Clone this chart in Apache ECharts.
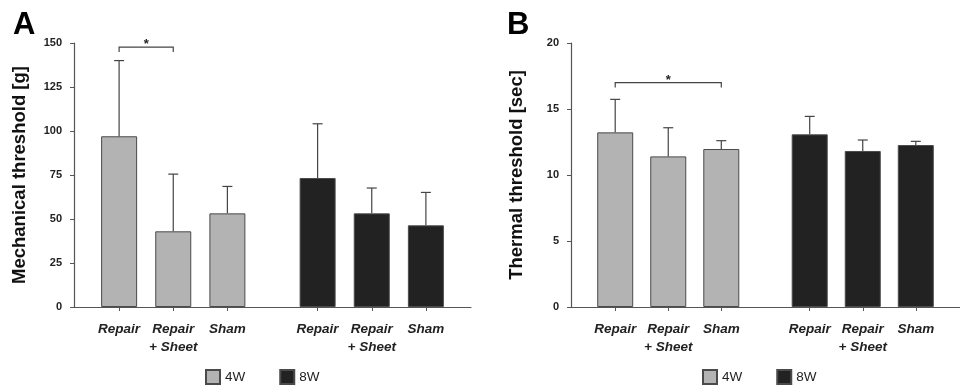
<!DOCTYPE html>
<html>
<head>
<meta charset="utf-8">
<script src="https://cdn.jsdelivr.net/npm/echarts@6/dist/echarts.min.js"></script>
<style>
  html, body { margin: 0; padding: 0; background: #fff; }
  #chart { width: 960px; height: 386px; }
</style>
</head>
<body>
<div id="chart"></div>
<script>
// categories (same three groups at 4W and 8W)
const groups = ['Repair', 'Repair\n+ Sheet', 'Sham'];
const weeks = ['4W', '8W'];

// A: mechanical threshold [g]
const mechMean4W = [97, 43, 53.2];
const mechErr4W = [43, 32.5, 15.3];
const mechMean8W = [73.3, 53.2, 46.4];
const mechErr8W = [30.8, 14.4, 18.7];
const mechTicks = [0, 150, 25];
const mechSig = [0, 1, 147.7]; // 4W Repair vs 4W Repair + Sheet

// B: thermal threshold [sec]
const thermMean4W = [13.23, 11.41, 11.97];
const thermErr4W = [2.5, 2.17, 0.63];
const thermMean8W = [13.08, 11.82, 12.27];
const thermErr8W = [1.36, 0.83, 0.28];
const thermTicks = [0, 20, 5];
const thermSig = [0, 2, 17]; // 4W Repair vs 4W Sham

// layout: slot positions on a 22-slot x axis
const pos4W = [2.5, 5.5, 8.5];
const pos8W = [13.5, 16.5, 19.5];
const slotCount = 22;
const allPos = pos4W.concat(pos8W);
const allLabels = groups.concat(groups);

const GRAY = '#b3b3b3';
const DARK = '#222222';
const EDGE = '#4a4a4a';
const FONT = 'Liberation Sans, Arial, sans-serif';

const chart = echarts.init(document.getElementById('chart'));

function xAxisFor(gridIndex) {
  return {
    gridIndex,
    type: 'value',
    min: 0,
    max: slotCount,
    splitLine: { show: false },
    axisLine: { lineStyle: { color: '#555', width: 1.2 } },
    axisTick: { customValues: allPos, length: 4, lineStyle: { color: '#555' } },
    axisLabel: {
      customValues: allPos,
      margin: 13,
      formatter: v => {
        const i = allPos.findIndex(p => Math.abs(p - v) < 1e-6);
        return i < 0 ? '' : allLabels[i];
      },
      fontFamily: FONT,
      fontSize: 13.5,
      fontWeight: 'bold',
      fontStyle: 'italic',
      color: '#222',
      lineHeight: 18
    }
  };
}

function yAxisFor(gridIndex, ticks, name) {
  return {
    gridIndex,
    type: 'value',
    min: ticks[0],
    max: ticks[1],
    interval: ticks[2],
    name,
    nameLocation: 'middle',
    nameGap: 45,
    nameTextStyle: { fontFamily: FONT, fontSize: 18.5, fontWeight: 'bold', color: '#111' },
    splitLine: { show: false },
    axisLine: { show: true, lineStyle: { color: '#555', width: 1.2 } },
    axisTick: { show: true, length: 4, lineStyle: { color: '#555' } },
    axisLabel: { margin: 12, fontFamily: FONT, fontSize: 11, fontWeight: 'bold', color: '#222' }
  };
}

function barSeries(idx, name, pos, mean, fill) {
  return {
    name,
    type: 'bar',
    xAxisIndex: idx,
    yAxisIndex: idx,
    barWidth: 36,
    barGap: '-100%',
    data: pos.map((p, i) => [p, mean[i]]),
    itemStyle: { color: fill, borderColor: EDGE, borderWidth: 1 },
    emphasis: { disabled: true },
    z: 2
  };
}

function errorSeries(idx, pos, mean, err) {
  return {
    type: 'custom',
    xAxisIndex: idx,
    yAxisIndex: idx,
    clip: false,
    silent: true,
    data: pos.map((p, i) => [p, mean[i], err[i]]),
    renderItem: (params, api) => {
      const lo = api.coord([api.value(0), api.value(1)]);
      const hi = api.coord([api.value(0), api.value(1) + api.value(2)]);
      const style = { stroke: '#444', lineWidth: 1.2 };
      return {
        type: 'group',
        children: [
          { type: 'line', shape: { x1: lo[0], y1: lo[1], x2: hi[0], y2: hi[1] }, style },
          { type: 'line', shape: { x1: hi[0] - 5, y1: hi[1], x2: hi[0] + 5, y2: hi[1] }, style }
        ]
      };
    },
    z: 3
  };
}

function sigSeries(idx, sig) {
  return {
    type: 'custom',
    xAxisIndex: idx,
    yAxisIndex: idx,
    clip: false,
    silent: true,
    data: [[pos4W[sig[0]], pos4W[sig[1]], sig[2]]],
    renderItem: (params, api) => {
      const a = api.coord([api.value(0), api.value(2)]);
      const b = api.coord([api.value(1), api.value(2)]);
      return {
        type: 'group',
        children: [
          {
            type: 'polyline',
            shape: { points: [[a[0], a[1] + 5], a, b, [b[0], b[1] + 5]] },
            style: { stroke: '#444', lineWidth: 1.2, fill: null }
          },
          {
            type: 'text',
            style: {
              x: (a[0] + b[0]) / 2, y: a[1] + 4, text: '*',
              align: 'center', verticalAlign: 'bottom',
              font: 'bold 13px ' + FONT, fill: '#222'
            }
          }
        ]
      };
    },
    z: 3
  };
}

const legendBase = {
  data: weeks,
  top: 364,
  itemWidth: 14,
  itemHeight: 14,
  itemGap: 34,
  icon: 'rect',
  selectedMode: false,
  textStyle: { fontFamily: FONT, fontSize: 13.5, color: '#222' }
};

chart.setOption({
  animation: false,
  backgroundColor: '#fff',
  title: [
    { text: 'A', left: 8, top: 5, textStyle: { fontFamily: FONT, fontSize: 31, fontWeight: 'bold', color: '#000' } },
    { text: 'B', left: 502, top: 5, textStyle: { fontFamily: FONT, fontSize: 31, fontWeight: 'bold', color: '#000' } }
  ],
  legend: [
    Object.assign({ left: 200 }, legendBase),
    Object.assign({ left: 697 }, legendBase)
  ],
  grid: [
    { left: 74, top: 43, width: 397, height: 264 },
    { left: 571, top: 43, width: 396, height: 264 }
  ],
  xAxis: [xAxisFor(0), xAxisFor(1)],
  yAxis: [
    yAxisFor(0, mechTicks, 'Mechanical threshold [g]'),
    yAxisFor(1, thermTicks, 'Thermal threshold [sec]')
  ],
  series: [
    barSeries(0, weeks[0], pos4W, mechMean4W, GRAY),
    barSeries(0, weeks[1], pos8W, mechMean8W, DARK),
    errorSeries(0, pos4W, mechMean4W, mechErr4W),
    errorSeries(0, pos8W, mechMean8W, mechErr8W),
    sigSeries(0, mechSig),
    barSeries(1, weeks[0], pos4W, thermMean4W, GRAY),
    barSeries(1, weeks[1], pos8W, thermMean8W, DARK),
    errorSeries(1, pos4W, thermMean4W, thermErr4W),
    errorSeries(1, pos8W, thermMean8W, thermErr8W),
    sigSeries(1, thermSig)
  ]
});
</script>
</body>
</html>
